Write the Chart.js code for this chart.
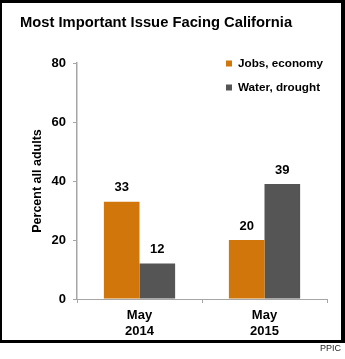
<!DOCTYPE html>
<html><head><meta charset="utf-8">
<script src="https://cdn.jsdelivr.net/npm/chart.js@4"></script>
<style>
html,body{margin:0;padding:0;background:#fff;}
#wrap{position:relative;width:345px;height:359px;overflow:hidden;}
canvas{position:absolute;left:0;top:0;}
#frame{position:absolute;left:0;top:0;width:339px;height:337px;border-style:solid;border-color:#000;border-width:3px 4px 3px 2px;pointer-events:none;}
#src{position:absolute;right:4px;top:343px;font:9px "Liberation Sans",Arial,sans-serif;color:#222;}
</style></head>
<body><div id="wrap"><canvas id="c" width="345" height="359"></canvas><div id="frame"></div><div id="src">PPIC</div></div>
<script>
const chartTitle = 'Most Important Issue Facing California';
const categories = [['May','2014'],['May','2015']];
const seriesNames = ['Jobs, economy','Water, drought'];
const jobsEconomy = [33, 20];
const waterDrought = [12, 39];
const yTicks = [0, 20, 40, 60, 80];
const yTitle = 'Percent all adults';
const seriesColors = ['#D0760A', '#555555'];

const FONT = '"Liberation Sans", Arial, sans-serif';

const valueLabels = {
  id: 'valueLabels',
  afterDatasetsDraw(chart) {
    const ctx = chart.ctx;
    ctx.save();
    ctx.font = 'bold 13px ' + FONT;
    ctx.fillStyle = '#000';
    ctx.textAlign = 'center';
    ctx.textBaseline = 'middle';
    chart.data.datasets.forEach((ds, i) => {
      chart.getDatasetMeta(i).data.forEach((bar, j) => {
        ctx.fillText(String(ds.data[j]), bar.x, bar.y - 14);
      });
    });
    ctx.restore();
  }
};

const sideLegend = {
  id: 'sideLegend',
  afterDraw(chart) {
    const ctx = chart.ctx;
    ctx.save();
    ctx.font = 'bold 11.7px ' + FONT;
    ctx.textBaseline = 'middle';
    ctx.textAlign = 'left';
    chart.data.datasets.forEach((ds, i) => {
      const y = 63.5 + i * 24;
      ctx.fillStyle = ds.backgroundColor;
      ctx.fillRect(226, y - 3, 6, 6);
      ctx.fillStyle = '#000';
      ctx.fillText(ds.label, 238, y);
    });
    ctx.restore();
  }
};

new Chart(document.getElementById('c'), {
  type: 'bar',
  data: {
    labels: categories,
    datasets: [
      { label: seriesNames[0], data: jobsEconomy, backgroundColor: seriesColors[0] },
      { label: seriesNames[1], data: waterDrought, backgroundColor: seriesColors[1] }
    ]
  },
  options: {
    responsive: false,
    animation: false,
    devicePixelRatio: 1,
    categoryPercentage: 0.57,
    barPercentage: 1.0,
    layout: { padding: { left: 20, right: 18, top: 0, bottom: 0 } },
    plugins: {
      legend: { display: false },
      tooltip: { enabled: false },
      title: {
        display: true,
        text: chartTitle,
        align: 'start',
        color: '#000',
        font: { family: FONT, size: 14.75, weight: 'bold' },
        padding: { top: 14.5, bottom: 30.8 }
      }
    },
    scales: {
      x: {
        grid: { display: true, offset: true, drawOnChartArea: false, tickLength: 4, color: '#a6a6a6' },
        border: { color: '#a6a6a6', width: 1 },
        ticks: { color: '#000', font: { family: FONT, size: 13, weight: 'bold' }, padding: 5, maxRotation: 0 },
        afterFit(s) { s.height = 60; }
      },
      y: {
        min: 0,
        max: 80,
        afterBuildTicks(s) { s.ticks = yTicks.map(v => ({ value: v })); },
        grid: { drawOnChartArea: false, tickLength: 4, color: '#a6a6a6' },
        border: { color: '#a6a6a6', width: 1.5 },
        ticks: { color: '#000', font: { family: FONT, size: 13, weight: 'bold' }, padding: 7 },
        title: {
          display: true,
          text: yTitle,
          color: '#000',
          font: { family: FONT, size: 12.5, weight: 'bold' },
          padding: { top: 10, bottom: 0 }
        },
        afterFit(s) { s.width = 57; }
      }
    }
  },
  plugins: [valueLabels, sideLegend]
});
</script>
</body></html>
